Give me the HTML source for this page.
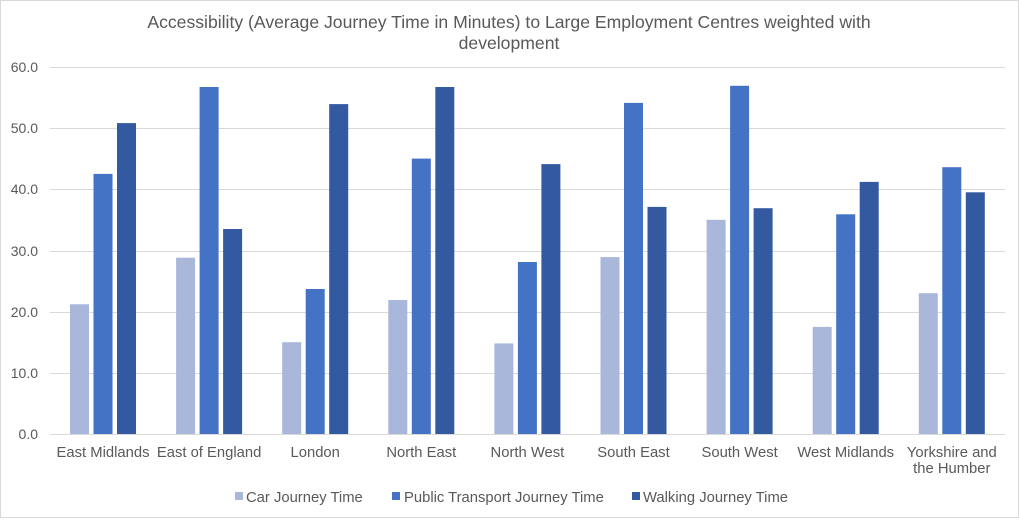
<!DOCTYPE html>
<html><head><meta charset="utf-8"><style>
body{margin:0;background:#fff;}
svg text{font-family:"Liberation Sans",Arial,sans-serif;fill:#595959;}
</style></head><body>
<svg width="1019" height="518" xmlns="http://www.w3.org/2000/svg">
<rect x="0.5" y="0.5" width="1018" height="517" fill="#fff" stroke="#d9d9d9"/>
<text x="509" y="28" font-size="17.6" text-anchor="middle">Accessibility (Average Journey Time in Minutes) to Large Employment Centres weighted with</text>
<text x="509" y="49" font-size="17.6" text-anchor="middle">development</text>
<g stroke="#d9d9d9" stroke-width="1">
<line x1="50" x2="1005" y1="67.5" y2="67.5"/>
<line x1="50" x2="1005" y1="128.5" y2="128.5"/>
<line x1="50" x2="1005" y1="189.5" y2="189.5"/>
<line x1="50" x2="1005" y1="251.5" y2="251.5"/>
<line x1="50" x2="1005" y1="312.5" y2="312.5"/>
<line x1="50" x2="1005" y1="373.5" y2="373.5"/>
<line x1="50" x2="1005" y1="434.5" y2="434.5"/>
</g>
<g font-size="14" text-anchor="end">
<text x="38" y="72">60.0</text><text x="38" y="133">50.0</text><text x="38" y="194">40.0</text>
<text x="38" y="256">30.0</text><text x="38" y="317">20.0</text><text x="38" y="378">10.0</text><text x="38" y="439">0.0</text>
</g>
<g fill="#a9b7db">
<rect x="70" y="304.3" width="19" height="129.7"/>
<rect x="176.1" y="257.7" width="19" height="176.3"/>
<rect x="282.2" y="342.2" width="19" height="91.8"/>
<rect x="388.3" y="300" width="19" height="134"/>
<rect x="494.4" y="343.4" width="19" height="90.6"/>
<rect x="600.5" y="257.1" width="19" height="176.9"/>
<rect x="706.6" y="219.8" width="19" height="214.2"/>
<rect x="812.7" y="326.9" width="19" height="107.1"/>
<rect x="918.8" y="293.2" width="19" height="140.8"/>
</g>
<g fill="#4472c4">
<rect x="93.5" y="173.9" width="19" height="260.1"/>
<rect x="199.6" y="87" width="19" height="347"/>
<rect x="305.7" y="289" width="19" height="145"/>
<rect x="411.8" y="158.6" width="19" height="275.4"/>
<rect x="517.9" y="262" width="19" height="172"/>
<rect x="624" y="102.9" width="19" height="331.1"/>
<rect x="730.1" y="85.8" width="19" height="348.2"/>
<rect x="836.2" y="214.3" width="19" height="219.7"/>
<rect x="942.3" y="167.2" width="19" height="266.8"/>
</g>
<g fill="#335aa1">
<rect x="117" y="123.1" width="19" height="310.9"/>
<rect x="223.1" y="229" width="19" height="205"/>
<rect x="329.2" y="104.1" width="19" height="329.9"/>
<rect x="435.3" y="87" width="19" height="347"/>
<rect x="541.4" y="164.1" width="19" height="269.9"/>
<rect x="647.5" y="206.9" width="19" height="227.1"/>
<rect x="753.6" y="208.2" width="19" height="225.8"/>
<rect x="859.7" y="181.9" width="19" height="252.1"/>
<rect x="965.8" y="192.3" width="19" height="241.7"/>
</g>
<g font-size="14.8" text-anchor="middle">
<text x="103" y="457">East Midlands</text>
<text x="209.1" y="457">East of England</text>
<text x="315.2" y="457">London</text>
<text x="421.3" y="457">North East</text>
<text x="527.4" y="457">North West</text>
<text x="633.5" y="457">South East</text>
<text x="739.6" y="457">South West</text>
<text x="845.7" y="457">West Midlands</text>
<text x="951.8" y="457">Yorkshire and</text>
<text x="951.8" y="473">the Humber</text>
</g>
<g font-size="14.8">
<rect x="235" y="492" width="8" height="8" fill="#a9b7db"/><text x="246" y="502">Car Journey Time</text>
<rect x="392" y="492" width="8" height="8" fill="#4472c4"/><text x="404" y="502">Public Transport Journey Time</text>
<rect x="632" y="492" width="8" height="8" fill="#335aa1"/><text x="643" y="502">Walking Journey Time</text>
</g>
</svg>
</body></html>
